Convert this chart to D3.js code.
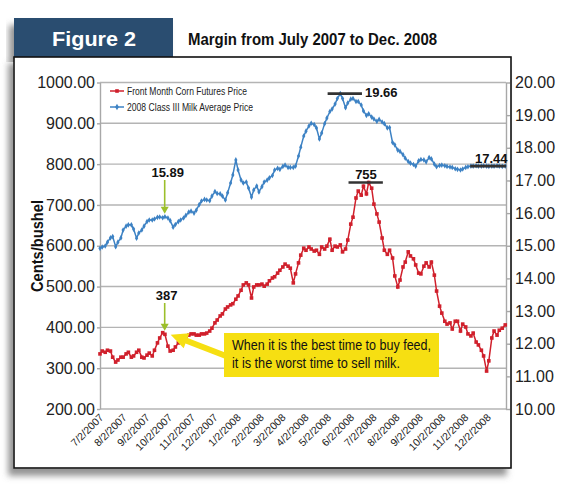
<!DOCTYPE html>
<html><head><meta charset="utf-8">
<script src="https://cdn.jsdelivr.net/npm/d3@7"></script>
<style>
html,body{margin:0;padding:0;background:#fff;}
svg{display:block;}
text{font-family:'Liberation Sans Narrow','Arial Narrow',sans-serif;}
</style></head><body>
<svg id="c" width="575" height="494"></svg>
<script>
// ---------- DATA ----------
const dates = [
"2007-07-02","2007-07-05","2007-07-09","2007-07-12","2007-07-16","2007-07-19","2007-07-23","2007-07-26","2007-07-30",
"2007-08-02","2007-08-06","2007-08-09","2007-08-13","2007-08-16","2007-08-20","2007-08-23","2007-08-27","2007-08-30",
"2007-09-03","2007-09-06","2007-09-10","2007-09-13","2007-09-17","2007-09-20","2007-09-24","2007-09-27",
"2007-10-01","2007-10-04","2007-10-08","2007-10-11","2007-10-15","2007-10-18","2007-10-22","2007-10-25","2007-10-29",
"2007-11-01","2007-11-05","2007-11-08","2007-11-12","2007-11-15","2007-11-19","2007-11-22","2007-11-26","2007-11-29",
"2007-12-03","2007-12-06","2007-12-10","2007-12-13","2007-12-17","2007-12-20","2007-12-24","2007-12-27","2007-12-31",
"2008-01-03","2008-01-07","2008-01-10","2008-01-14","2008-01-17","2008-01-21","2008-01-24","2008-01-28","2008-01-31",
"2008-02-04","2008-02-07","2008-02-11","2008-02-14","2008-02-18","2008-02-21","2008-02-25","2008-02-28",
"2008-03-03","2008-03-06","2008-03-10","2008-03-13","2008-03-17","2008-03-20","2008-03-24","2008-03-27","2008-03-31",
"2008-04-03","2008-04-07","2008-04-10","2008-04-14","2008-04-17","2008-04-21","2008-04-24","2008-04-28",
"2008-05-01","2008-05-05","2008-05-08","2008-05-12","2008-05-15","2008-05-19","2008-05-22","2008-05-26","2008-05-29",
"2008-06-02","2008-06-05","2008-06-09","2008-06-12","2008-06-16","2008-06-19","2008-06-23","2008-06-26","2008-06-30",
"2008-07-03","2008-07-07","2008-07-10","2008-07-14","2008-07-17","2008-07-21","2008-07-24","2008-07-28","2008-07-31",
"2008-08-04","2008-08-07","2008-08-11","2008-08-14","2008-08-18","2008-08-21","2008-08-25","2008-08-28",
"2008-09-01","2008-09-04","2008-09-08","2008-09-11","2008-09-15","2008-09-18","2008-09-22","2008-09-25","2008-09-29",
"2008-10-02","2008-10-06","2008-10-09","2008-10-13","2008-10-16","2008-10-20","2008-10-23","2008-10-27","2008-10-30",
"2008-11-03","2008-11-06","2008-11-10","2008-11-13","2008-11-17","2008-11-20","2008-11-24","2008-11-27",
"2008-12-01","2008-12-04","2008-12-08","2008-12-11","2008-12-15","2008-12-18","2008-12-22","2008-12-26"
];

// Front Month Corn Futures Price (cents/bushel)
const cornPrice = [
335,342,339,344,342,327,315,320,327,327,335,339,327,330,339,344,327,325,
332,337,330,344,362,374,387,383,354,342,344,352,362,367,369,374,381,384,
384,381,381,384,384,386,391,398,411,418,428,433,445,450,455,458,469,477,
491,504,509,504,472,499,504,504,506,501,506,514,521,524,533,540,548,555,
550,545,509,531,558,577,594,589,597,592,587,589,579,597,592,599,616,589,
599,597,602,585,592,614,653,670,717,734,724,746,727,755,741,702,678,658,
619,589,579,589,570,526,499,516,548,560,585,575,568,553,533,531,550,558,
548,560,528,489,452,435,415,408,411,396,415,415,391,408,401,384,379,386,
364,357,344,330,293,318,374,391,381,393,398,406
];

// 2008 Class III Milk Average Price ($/cwt)
const milkPrice = [
14.92,14.96,14.99,15.11,15.24,15.28,14.97,15.11,15.24,15.48,15.60,15.64,15.64,15.51,15.23,15.39,15.48,15.60,
15.74,15.79,15.79,15.82,15.87,15.88,15.86,15.89,15.85,15.77,15.57,15.65,15.74,15.79,15.85,15.93,16.03,16.06,
16.00,16.09,16.26,16.37,16.42,16.40,16.38,16.52,16.66,16.60,16.59,16.52,16.40,16.62,16.92,17.17,17.63,17.32,
17.01,16.92,16.95,16.77,16.49,16.71,16.83,16.65,16.81,16.95,17.01,17.08,17.15,17.32,17.37,17.34,17.43,17.47,
17.40,17.40,17.40,17.44,17.75,18.02,18.36,18.51,18.67,18.75,18.71,18.61,18.27,18.45,18.74,18.91,19.11,19.19,
19.34,19.51,19.66,19.51,19.23,19.37,19.49,19.51,19.42,19.42,19.31,19.13,18.99,19.04,18.94,18.88,18.81,18.87,
18.79,18.74,18.61,18.62,18.16,18.09,17.93,17.89,17.79,17.68,17.58,17.53,17.49,17.44,17.60,17.64,17.63,17.57,
17.70,17.66,17.50,17.42,17.46,17.47,17.45,17.43,17.41,17.40,17.36,17.34,17.32,17.35,17.40,17.42,17.44,17.44,
17.45,17.44,17.44,17.45,17.44,17.43,17.44,17.44,17.45,17.44,17.43,17.44
];

const seriesNames = ["Front Month Corn Futures Price","2008 Class III Milk Average Price"];
const xTickLabels = ["7/2/2007","8/2/2007","9/2/2007","10/2/2007","11/2/2007","12/2/2007",
"1/2/2008","2/2/2008","3/2/2008","4/2/2008","5/2/2008","6/2/2008","7/2/2008","8/2/2008",
"9/2/2008","10/2/2008","11/2/2008","12/2/2008"];
const cornTicks = [200,300,400,500,600,700,800,900,1000];
const milkTicks = [10,11,12,13,14,15,16,17,18,19,20];
const xDomain = ["2007-07-02","2008-12-27"];

const titleText = "Figure 2";
const subtitleText = "Margin from July 2007 to Dec. 2008";
const yLabelText = "Cents/bushel";
const calloutLines = ["When it is the best time to buy feed,","it is the worst time to sell milk."];
// annotated values
const milkLow = {date:"2007-09-24", value:15.89, label:"15.89"};
const cornLow = {date:"2007-09-24", value:387, label:"387"};
const milkHigh = {from:"2008-05-02", to:"2008-06-17", value:19.66, label:"19.66"};
const cornHigh = {from:"2008-05-30", to:"2008-07-15", value:755, label:"755"};
const milkEnd = {from:"2008-11-09", to:"2008-12-27", value:17.44, label:"17.44"};

// ---------- CHART ----------
const parse = d3.timeParse("%Y-%m-%d");
const parseLbl = d3.timeParse("%m/%d/%Y");
const corn = dates.map((d,i)=>({date:parse(d), v:cornPrice[i]}));
const milk = dates.map((d,i)=>({date:parse(d), v:milkPrice[i]}));

const svg = d3.select("#c");
const defs = svg.append("defs");
const f = defs.append("filter").attr("id","sh").attr("x","-5%").attr("y","-5%").attr("width","112%").attr("height","115%");
f.append("feDropShadow").attr("dx",-5).attr("dy",7).attr("stdDeviation",3)
  .attr("flood-color","#666").attr("flood-opacity",0.7);

// header + frame
svg.append("rect").attr("x",14).attr("y",18).attr("width",159).attr("height",40)
  .attr("fill","#2a4e70").attr("filter","url(#sh)");
svg.append("rect").attr("x",14).attr("y",57).attr("width",497).attr("height",411)
  .attr("fill","#fff").attr("stroke","#111").attr("stroke-width",1.6).attr("filter","url(#sh)");

svg.append("text").attr("x",52).attr("y",46).text(titleText)
  .style("font-family","'Liberation Sans',Arial,sans-serif").attr("font-weight","bold")
  .attr("font-size",21).attr("fill","#fff").attr("textLength",84).attr("lengthAdjust","spacingAndGlyphs");
svg.append("text").attr("x",188).attr("y",45).text(subtitleText)
  .attr("font-weight","bold").attr("font-size",17).attr("fill","#111")
  .attr("textLength",249).attr("lengthAdjust","spacingAndGlyphs");

const L=100, R=506, T=82.5, B=409;
const x = d3.scaleTime().domain(xDomain.map(parse)).range([L,R]);
const yL = d3.scaleLinear().domain([200,1000]).range([B,T]);
const yR = d3.scaleLinear().domain([10,20]).range([B,T]);

// grid
svg.append("g").selectAll("line").data(cornTicks).join("line")
  .attr("x1",L).attr("x2",R).attr("y1",d=>yL(d)).attr("y2",d=>yL(d))
  .attr("stroke","#b4b4b4").attr("stroke-width",1.4);

// left axis
const gl = svg.append("g").attr("transform",`translate(${L},0)`)
  .call(d3.axisLeft(yL).tickValues(cornTicks).tickFormat(d3.format(".2f")).tickSize(3).tickPadding(2).tickSizeOuter(0));
gl.select(".domain").attr("stroke","#a8a8a8").attr("stroke-width",1.4);
gl.selectAll(".tick line").attr("stroke","#a8a8a8").attr("stroke-width",1.4);
gl.selectAll("text").attr("font-size",16).attr("fill","#222").style("font-family","'Liberation Sans Narrow','Arial Narrow',sans-serif");

// right axis
const gr = svg.append("g").attr("transform",`translate(${R},0)`)
  .call(d3.axisRight(yR).tickValues(milkTicks).tickFormat(d3.format(".2f")).tickSize(4).tickPadding(5).tickSizeOuter(0));
gr.select(".domain").attr("stroke","#a8a8a8").attr("stroke-width",1.4);
gr.selectAll(".tick line").attr("stroke","#a8a8a8").attr("stroke-width",1.4);
gr.selectAll("text").attr("font-size",16).attr("fill","#222").style("font-family","'Liberation Sans Narrow','Arial Narrow',sans-serif");

// x labels
svg.append("g").selectAll("text").data(xTickLabels).join("text")
  .attr("transform",d=>`translate(${x(parseLbl(d))-1},${B+4}) rotate(-45)`)
  .attr("text-anchor","end").attr("dy","0.7em").attr("font-size",10.5).attr("fill","#222").text(d=>d);

// y label
svg.append("text").attr("transform","translate(43,246) rotate(-90)").attr("text-anchor","middle")
  .attr("font-weight","bold").attr("font-size",17).attr("fill","#111")
  .attr("textLength",92).attr("lengthAdjust","spacingAndGlyphs").text(yLabelText);

// series
const RED="#d0202c", BLUE="#3d82c4";
const lineC = d3.line().x(d=>x(d.date)).y(d=>yL(d.v));
const lineM = d3.line().x(d=>x(d.date)).y(d=>yR(d.v));
svg.append("path").datum(milk).attr("d",lineM).attr("fill","none").attr("stroke",BLUE).attr("stroke-width",1.5);
svg.append("g").selectAll("path").data(milk).join("path")
  .attr("d",d3.symbol(d3.symbolDiamond,9)).attr("transform",d=>`translate(${x(d.date)},${yR(d.v)})`).attr("fill",BLUE);
svg.append("path").datum(corn).attr("d",lineC).attr("fill","none").attr("stroke",RED).attr("stroke-width",1.5);
svg.append("g").selectAll("rect").data(corn).join("rect")
  .attr("x",d=>x(d.date)-1.8).attr("y",d=>yL(d.v)-1.8).attr("width",3.6).attr("height",3.6).attr("fill",RED);

// legend
const lg = svg.append("g");
[[RED,91],[BLUE,107]].forEach(([c,yy],i)=>{
  lg.append("line").attr("x1",110).attr("x2",124).attr("y1",yy).attr("y2",yy).attr("stroke",c).attr("stroke-width",1.5);
  if(i===0) lg.append("rect").attr("x",115.2).attr("y",yy-1.8).attr("width",3.6).attr("height",3.6).attr("fill",c);
  else lg.append("path").attr("d",d3.symbol(d3.symbolDiamond,12)).attr("transform",`translate(117,${yy})`).attr("fill",c);
  lg.append("text").attr("x",127).attr("y",yy).attr("dy","0.36em").attr("font-size",11).attr("fill","#222")
    .attr("textLength",i===0?120:126).attr("lengthAdjust","spacingAndGlyphs").text(seriesNames[i]);
});

// green arrows
const GREEN="#9cbf2b";
function downArrow(cx,y1,y2){
  svg.append("line").attr("x1",cx).attr("x2",cx).attr("y1",y1).attr("y2",y2-5).attr("stroke",GREEN).attr("stroke-width",1.6);
  svg.append("path").attr("d",`M${cx-4},${y2-7}L${cx+4},${y2-7}L${cx},${y2}Z`).attr("fill",GREEN);
}
const mx = x(parse(milkLow.date));
downArrow(mx+2, 180, yR(milkLow.value)-3);
svg.append("text").attr("x",mx+5).attr("y",177).attr("text-anchor","middle").attr("font-weight","bold")
  .attr("font-size",13).attr("fill","#111").text(milkLow.label);
const cx0 = x(parse(cornLow.date));
downArrow(cx0+2, 303, yL(cornLow.value)-2);
svg.append("text").attr("x",cx0+4).attr("y",300).attr("text-anchor","middle").attr("font-weight","bold")
  .attr("font-size",13).attr("fill","#111").text(cornLow.label);

// high/low bars
function bar(o,scale,tx,ty,anchor){
  svg.append("line").attr("x1",x(parse(o.from))).attr("x2",x(parse(o.to)))
    .attr("y1",scale(o.value)).attr("y2",scale(o.value)).attr("stroke","#333").attr("stroke-width",2.6);
  svg.append("text").attr("x",tx).attr("y",ty).attr("text-anchor",anchor).attr("font-weight","bold")
    .attr("font-size",13).attr("fill","#111").text(o.label);
}
bar(milkHigh,yR,365,97,"start");
bar(cornHigh,yL,366,179,"middle");
bar(milkEnd,yR,475,163,"start");

// callout
const YEL="#f6df12";
const tip=[x(parse(cornLow.date))+8, yL(cornLow.value)+2], tail=[226,356];
const dx=tail[0]-tip[0], dy=tail[1]-tip[1], len=Math.hypot(dx,dy), ux=dx/len, uy=dy/len, nx=-uy, ny=ux;
const hl=17, hw=8, sw=3;
const pts=[tip,
 [tip[0]+hl*ux+hw*nx, tip[1]+hl*uy+hw*ny],
 [tip[0]+hl*ux+sw*nx, tip[1]+hl*uy+sw*ny],
 [tail[0]+sw*nx, tail[1]+sw*ny],
 [tail[0]-sw*nx, tail[1]-sw*ny],
 [tip[0]+hl*ux-sw*nx, tip[1]+hl*uy-sw*ny],
 [tip[0]+hl*ux-hw*nx, tip[1]+hl*uy-hw*ny]];
svg.append("path").attr("d","M"+pts.map(p=>p.join(",")).join("L")+"Z").attr("fill",YEL);
svg.append("rect").attr("x",224).attr("y",333).attr("width",215).attr("height",44).attr("fill",YEL);
svg.append("text").attr("x",232).attr("y",350).attr("font-size",14).attr("fill","#111")
  .attr("textLength",199).attr("lengthAdjust","spacingAndGlyphs").text(calloutLines[0]);
svg.append("text").attr("x",232).attr("y",368).attr("font-size",14).attr("fill","#111")
  .attr("textLength",168).attr("lengthAdjust","spacingAndGlyphs").text(calloutLines[1]);
</script>
</body></html>
